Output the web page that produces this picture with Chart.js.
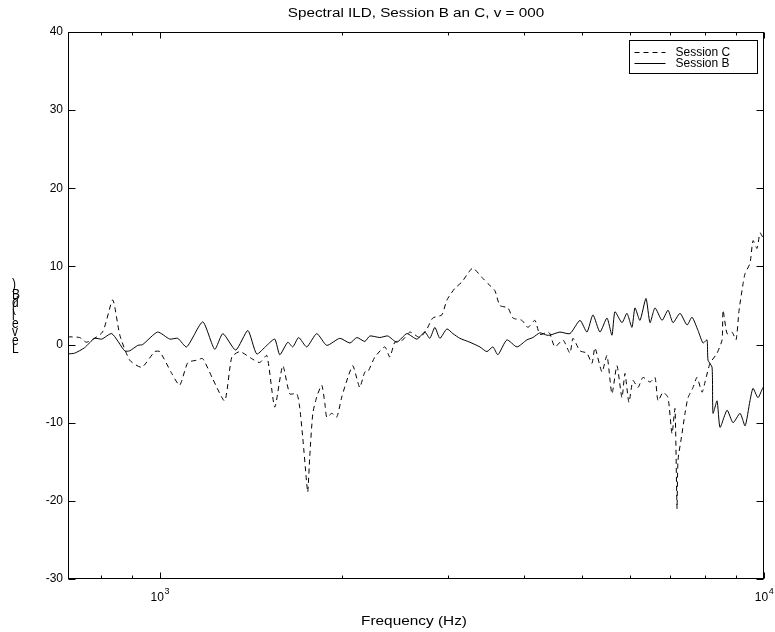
<!DOCTYPE html>
<html>
<head>
<meta charset="utf-8">
<script src="https://cdn.jsdelivr.net/npm/chart.js@4.4.1/dist/chart.umd.min.js"></script>
<style>
  body { margin: 0; background: #fff; }
</style>
</head>
<body>
<canvas id="ildChart" width="775" height="632"></canvas>
<script>
var titleText = "Spectral ILD, Session B an C, v = 000";
var xTitle = "Frequency (Hz)";
var yTitle = "Level (dB)";
var decades = [3, 4];

// Session B (solid)
var freqB = [704, 723, 751, 780, 802, 833, 875, 892, 920, 937, 992, 1039, 1071, 1108, 1178, 1233, 1272, 1336, 1399, 1447,
  1504, 1550, 1580, 1629, 1660, 1698, 1751, 1819, 1890, 1986, 2064, 2119, 2185, 2227, 2313, 2385, 2468, 2564, 2664, 2746,
  2799, 2853, 2908, 2987, 3056, 3138, 3260, 3387, 3479, 3559, 3628, 3754, 3901, 4051, 4145, 4257, 4372, 4423, 4595, 4774,
  4960, 5093, 5211, 5352, 5497, 5602, 5667, 5820, 5932, 6046, 6116, 6233, 6378, 6477, 6601, 6780, 6937, 7070, 7261, 7458,
  7601, 7777, 7927, 8049, 8079, 8204, 8235, 8362, 8458, 8687, 8887, 9129, 9305, 9480, 9590, 9774, 9962, 10000];
var levelB = [-1.2, -1.1, -0.4, 0.8, 0.7, 1.4, -0.8, -0.8, -0.1, 0, 1.6, 0.7, 0.8, -0.3, 2.9, -0.6, 1.4, -0.7, 1.8, -1.2,
  -0.1, 0.7, -1.3, 0.3, -0.3, 0.9, -0.3, 1.4, -0.1, 0.8, 0.2, 0.9, 0.4, 1.1, 0.9, 1.1, 0.3, 1.4, 0.7, 1.6,
  0.8, 2.2, 0.8, 2.0, 1.4, 0.8, 0.3, -0.3, -0.9, -0.3, -1.3, 0.6, -0.3, 0.6, 0.9, 1.5, 1.2, 1.2, 1.6, 1.4,
  3.1, 1.6, 3.8, 1.6, 3.4, 1.2, 4.2, 2.8, 4.0, 2.2, 4.7, 3.1, 5.9, 2.8, 4.7, 3.1, 4.4, 2.8, 4.0, 2.5,
  3.5, 1.8, 0.2, 0.6, -2.0, -2.9, -8.8, -7.2, -10.6, -8.4, -10.0, -8.8, -10.4, -7.2, -5.6, -6.8, -5.5, -5.8];

// Session C (dashed)
var freqC = [704, 737, 757, 804, 836, 859, 892, 934, 981, 1000, 1047, 1079, 1113, 1151, 1178, 1224, 1281, 1316, 1357, 1420,
  1464, 1504, 1550, 1598, 1641, 1686, 1705, 1725, 1751, 1758, 1771, 1792, 1819, 1854, 1876, 1890, 1927, 1963, 2001, 2048,
  2087, 2127, 2144, 2185, 2210, 2270, 2358, 2403, 2450, 2525, 2594, 2695, 2768, 2831, 2930, 2987, 3079, 3162, 3235, 3298,
  3413, 3492, 3586, 3655, 3769, 3841, 3975, 4067, 4177, 4257, 4389, 4423, 4508, 4648, 4774, 4829, 4960, 5093, 5191, 5251,
  5393, 5497, 5602, 5710, 5820, 5887, 5977, 6069, 6186, 6305, 6477, 6601, 6677, 6806, 6937, 7043, 7124, 7179, 7206, 7317,
  7401, 7486, 7630, 7747, 7897, 7987, 8141, 8362, 8523, 8556, 8687, 8853, 8990, 9094, 9234, 9305, 9480, 9590, 9737, 9849,
  9962, 10000];
var levelC = [1.0, 0.9, 0.3, 1.6, 5.7, 1.2, -2.0, -2.9, -0.9, -0.9, -3.7, -5.2, -2.3, -2.0, -1.8, -4.4, -7.2, -1.6, -0.9, -1.8,
  -2.3, -1.4, -8.0, -2.7, -6.3, -6.3, -8.1, -12.0, -17.8, -18.9, -14.4, -8.8, -6.7, -5.2, -7.5, -9.3, -8.8, -9.3, -6.7, -4.2,
  -2.7, -4.8, -5.5, -3.5, -3.5, -1.6, -0.3, -1.6, 0.3, 0.6, 1.6, 0.9, 2.0, 3.4, 3.8, 5.7, 7.2, 8.0, 9.1, 9.8,
  8.6, 7.8, 6.9, 5.0, 4.7, 3.4, 3.1, 2.2, 3.1, 1.3, 1.6, 1.4, -0.3, 0.6, -1.1, 0.8, -0.8, -1.1, -2.4, -0.4,
  -3.5, -1.4, -6.3, -2.7, -6.8, -3.7, -7.4, -4.6, -5.5, -4.2, -4.8, -4.2, -7.2, -6.1, -6.8, -11.4, -8.2, -21.0, -14.8, -11.4,
  -8.8, -6.8, -5.5, -4.2, -6.1, -4.8, -2.4, -1.1, 0.6, 4.4, 1.4, 1.6, 0.6, 4.4, 7.8, 9.1, 10.4, 13.3, 12.3, 14.3,
  13.7, 14.0];

var FONT = '"Liberation Sans", Arial, Helvetica, sans-serif';

function toPoints(fs, vs) {
  var pts = [];
  for (var i = 0; i < fs.length; i++) pts.push({x: fs[i], y: vs[i]});
  return pts;
}

function line(ctx, x1, y1, x2, y2) {
  ctx.beginPath();
  ctx.moveTo(x1, y1);
  ctx.lineTo(x2, y2);
  ctx.stroke();
}

// text drawn a bit wider, like the exported figure
function wideText(ctx, txt, cx, y, sx) {
  ctx.save();
  ctx.translate(cx, y);
  ctx.scale(sx, 1);
  ctx.textAlign = 'center';
  ctx.fillText(txt, 0, 0);
  ctx.restore();
}

// matlab style box, inward ticks, labels and legend
var matlabAxes = {
  id: 'matlabAxes',
  afterDatasetsDraw: function(chart) {
    var ctx = chart.ctx, a = chart.chartArea;
    var xs = chart.scales.x, ys = chart.scales.y;
    ctx.save();
    ctx.strokeStyle = '#000';
    ctx.fillStyle = '#000';
    ctx.lineWidth = 1;
    ctx.setLineDash([]);
    var L = a.left + 0.5, R = a.right - 0.5, T = a.top + 0.5, B = a.bottom - 0.5;
    ctx.strokeRect(L, T, R - L, B - T);

    ys.ticks.forEach(function(t) {
      var py = Math.round(ys.getPixelForValue(t.value)) + 0.5;
      line(ctx, L, py, L + 7, py);
      line(ctx, R - 7, py, R, py);
    });

    for (var e = 2; e <= 4; e++) {
      for (var m = 1; m <= 9; m++) {
        var v = m * Math.pow(10, e);
        if (v < xs.min || v > xs.max) continue;
        var px = Math.round(xs.getPixelForValue(v)) + 0.5;
        var len = (m === 1) ? 6 : 3;
        line(ctx, px, B, px, B - len);
        line(ctx, px, T, px, T + len);
      }
    }

    // x tick labels 10^n
    decades.forEach(function(d) {
      var px = xs.getPixelForValue(Math.pow(10, d));
      ctx.font = '12px ' + FONT;
      var wb = ctx.measureText('10').width;
      ctx.font = '9px ' + FONT;
      var we = ctx.measureText(String(d)).width;
      var x0 = px - (wb + we) / 2;
      ctx.textAlign = 'left';
      ctx.textBaseline = 'alphabetic';
      ctx.font = '12px ' + FONT;
      ctx.fillText('10', x0, 601);
      ctx.font = '9px ' + FONT;
      ctx.fillText(String(d), x0 + wb + 0.5, 594);
    });

    // titles
    var cx = (a.left + a.right) / 2;
    ctx.font = '12px ' + FONT;
    ctx.textBaseline = 'alphabetic';
    wideText(ctx, titleText, cx, 17, 1.27);
    wideText(ctx, xTitle, cx - 2, 625, 1.28);

    // y label: glyphs stay upright and stack upward (as in the export)
    ctx.textAlign = 'left';
    var yy = 353;
    for (var i = 0; i < yTitle.length; i++) {
      var ch = yTitle[i];
      ctx.save();
      ctx.translate(12, yy);
      ctx.scale(1, 1.2);
      ctx.fillText(ch, 0, 0);
      ctx.restore();
      yy -= ctx.measureText(ch).width * 1.27;
    }

    // legend
    var lx = 629.5, ly = 40.5, lw = 128, lh = 33;
    ctx.fillStyle = '#fff';
    ctx.fillRect(lx, ly, lw, lh);
    ctx.strokeRect(lx, ly, lw, lh);
    ctx.fillStyle = '#000';
    ctx.textBaseline = 'middle';
    chart.data.datasets.forEach(function(ds, k) {
      var ry = Math.round(ly + 11 + k * 11) + 0.5;
      ctx.setLineDash(ds.borderDash || []);
      line(ctx, lx + 5, ry, lx + 36, ry);
      ctx.setLineDash([]);
      ctx.fillText(ds.label, lx + 46, ry);
    });
    ctx.restore();
  }
};

var ctxI = document.getElementById('ildChart').getContext('2d');
var ildChart = new Chart(ctxI, {
  type: 'line',
  data: {
    datasets: [
      {
        label: 'Session C',
        data: toPoints(freqC, levelC),
        borderColor: '#000',
        borderWidth: 1,
        borderDash: [5, 4],
        pointRadius: 0,
        tension: 0.2,
        fill: false
      },
      {
        label: 'Session B',
        data: toPoints(freqB, levelB),
        borderColor: '#000',
        borderWidth: 1,
        pointRadius: 0,
        tension: 0.2,
        fill: false
      }
    ]
  },
  options: {
    responsive: false,
    animation: false,
    devicePixelRatio: 1,
    layout: { padding: { top: 32, right: 11, left: 0, bottom: 0 } },
    plugins: {
      legend: { display: false },
      title: { display: false },
      tooltip: { enabled: false }
    },
    scales: {
      x: {
        type: 'logarithmic',
        min: 705,
        max: 10000,
        grid: { display: false, drawTicks: false },
        border: { display: false },
        ticks: { display: false },
        afterFit: function(s) { s.height = 53; }
      },
      y: {
        min: -30,
        max: 40,
        grid: { display: false, drawTicks: false },
        border: { display: false },
        ticks: {
          stepSize: 10,
          color: '#000',
          padding: 5,
          font: { family: FONT, size: 12 }
        },
        afterFit: function(s) { s.width = 68; }
      }
    }
  },
  plugins: [matlabAxes]
});
</script>
</body>
</html>
